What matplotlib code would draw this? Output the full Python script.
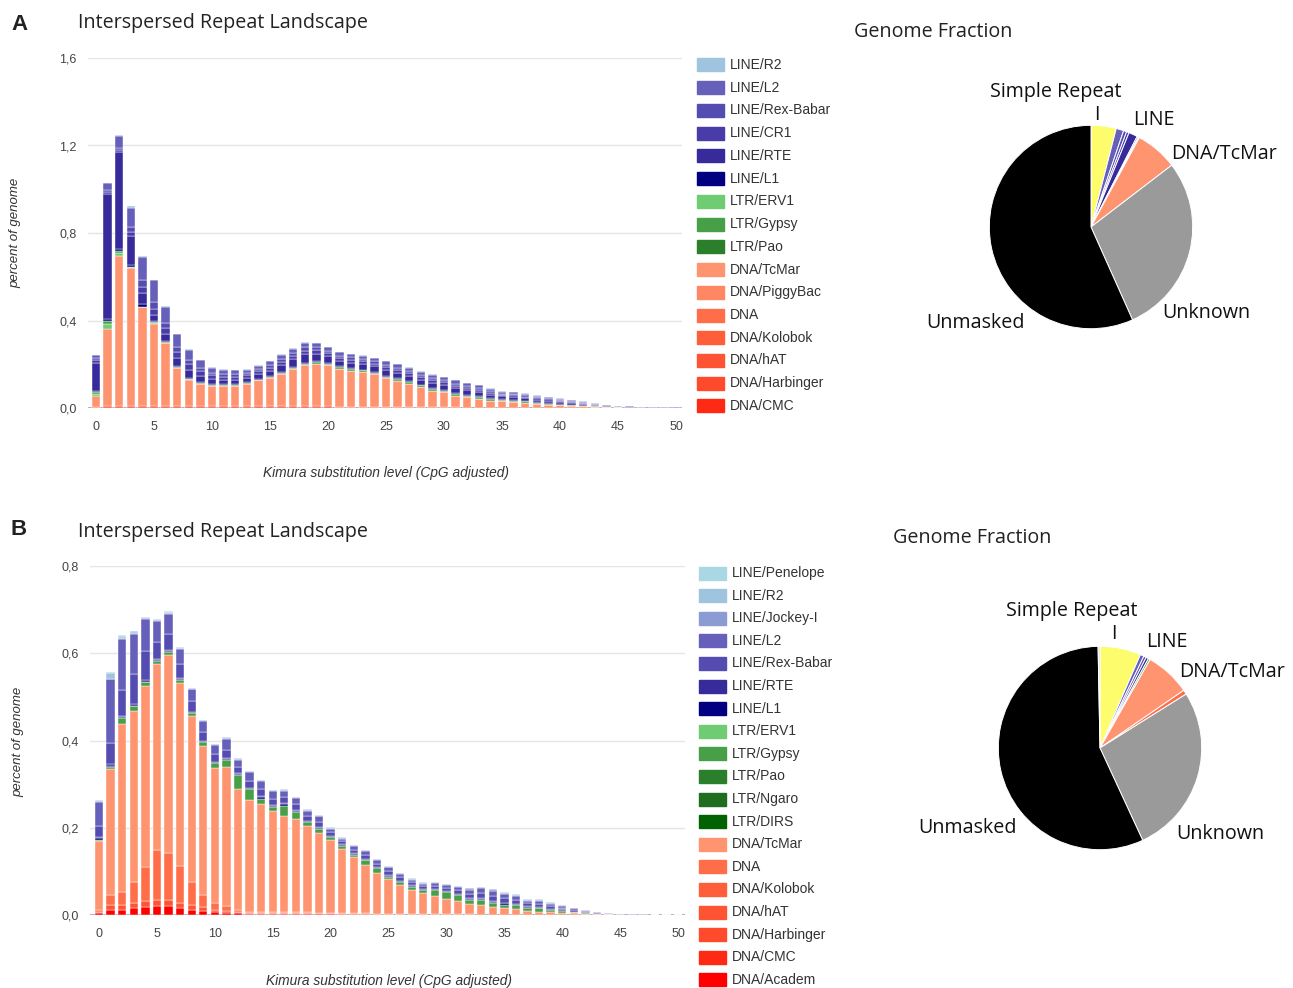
import matplotlib.pyplot as plt
from matplotlib.patches import Rectangle
import numpy as np

plt.rcParams['font.family'] = ['Liberation Sans', 'DejaVu Sans']

# shared axis values
kimura = list(range(51))
x_ticks = list(range(0, 51, 5))
y_ticks_a = [0, 0.4, 0.8, 1.2, 1.6]
y_labels_a = ['0,0', '0,4', '0,8', '1,2', '1,6']
y_ticks_b = [0, 0.2, 0.4, 0.6, 0.8]
y_labels_b = ['0,0', '0,2', '0,4', '0,6', '0,8']

# ---- panel A: percent of genome per Kimura bin ----
a_dna_hat = [0.004, 0.008, 0.010, 0.010, 0.010, 0.008, 0.008, 0.007, 0.007, 0.007,
             0.007, 0.007, 0.007, 0.007, 0.007, 0.007, 0.007, 0.007, 0.007, 0.007,
             0.007, 0.006, 0.006, 0.006, 0.006, 0.005, 0.005, 0.004, 0.004, 0.003,
             0.003, 0.003, 0.002, 0.002, 0.002, 0.002, 0.001, 0.001, 0.001, 0.001,
             0.001, 0.001, 0.001, 0.000, 0.000, 0.000, 0.000, 0.000, 0.000, 0.000,
             0.000]
a_dna_tcmar = [0.049, 0.355, 0.687, 0.630, 0.450, 0.378, 0.289, 0.176, 0.123, 0.104,
               0.095, 0.095, 0.095, 0.104, 0.119, 0.130, 0.148, 0.170, 0.189, 0.196,
               0.190, 0.174, 0.165, 0.160, 0.149, 0.132, 0.120, 0.106, 0.091, 0.076,
               0.069, 0.053, 0.047, 0.039, 0.032, 0.028, 0.026, 0.023, 0.017, 0.014,
               0.011, 0.010, 0.008, 0.006, 0.004, 0.003, 0.002, 0.001, 0.001, 0.001,
               0.000]
a_ltr_erv1 = [0.012, 0.022, 0.012, 0.003, 0.002, 0.002, 0.001, 0.001, 0.001, 0.001,
              0.000, 0.000, 0.000, 0.000, 0.000, 0.000, 0.000, 0.000, 0.000, 0.000,
              0.000, 0.000, 0.000, 0.000, 0.000, 0.000, 0.000, 0.000, 0.000, 0.000,
              0.000, 0.000, 0.000, 0.000, 0.000, 0.000, 0.000, 0.000, 0.000, 0.000,
              0.000, 0.000, 0.000, 0.000, 0.000, 0.000, 0.000, 0.000, 0.000, 0.000,
              0.000]
a_ltr_gypsy = [0.008, 0.011, 0.008, 0.003, 0.002, 0.003, 0.003, 0.003, 0.003, 0.002,
               0.003, 0.003, 0.003, 0.003, 0.004, 0.004, 0.005, 0.005, 0.006, 0.006,
               0.006, 0.006, 0.006, 0.006, 0.007, 0.007, 0.007, 0.008, 0.008, 0.008,
               0.008, 0.008, 0.008, 0.008, 0.007, 0.007, 0.007, 0.006, 0.006, 0.005,
               0.004, 0.003, 0.002, 0.001, 0.001, 0.000, 0.000, 0.000, 0.000, 0.000,
               0.000]
a_line_l1 = [0.005, 0.012, 0.012, 0.010, 0.010, 0.008, 0.006, 0.005, 0.005, 0.004,
             0.004, 0.004, 0.004, 0.004, 0.004, 0.004, 0.005, 0.005, 0.005, 0.005,
             0.005, 0.004, 0.004, 0.004, 0.004, 0.004, 0.004, 0.004, 0.004, 0.004,
             0.004, 0.004, 0.004, 0.004, 0.004, 0.003, 0.003, 0.003, 0.003, 0.003,
             0.003, 0.002, 0.002, 0.001, 0.001, 0.001, 0.000, 0.000, 0.000, 0.000,
             0.000]
a_line_rte = [0.130, 0.570, 0.440, 0.130, 0.050, 0.025, 0.030, 0.035, 0.035, 0.030,
              0.025, 0.020, 0.020, 0.020, 0.022, 0.025, 0.030, 0.035, 0.040, 0.035,
              0.030, 0.027, 0.027, 0.025, 0.024, 0.025, 0.024, 0.023, 0.022, 0.023,
              0.021, 0.022, 0.020, 0.019, 0.016, 0.013, 0.014, 0.012, 0.011, 0.010,
              0.009, 0.007, 0.006, 0.005, 0.003, 0.002, 0.002, 0.002, 0.001, 0.001,
              0.001]
a_line_cr1 = [0.010, 0.010, 0.010, 0.020, 0.030, 0.030, 0.030, 0.030, 0.025, 0.020,
              0.015, 0.015, 0.013, 0.012, 0.012, 0.014, 0.015, 0.015, 0.015, 0.015,
              0.012, 0.012, 0.012, 0.012, 0.012, 0.013, 0.013, 0.013, 0.012, 0.013,
              0.012, 0.012, 0.011, 0.010, 0.009, 0.007, 0.007, 0.007, 0.006, 0.006,
              0.005, 0.004, 0.003, 0.002, 0.002, 0.001, 0.001, 0.001, 0.001, 0.001,
              0.001]
a_line_rex = [0.010, 0.010, 0.010, 0.020, 0.030, 0.030, 0.020, 0.020, 0.020, 0.015,
              0.012, 0.012, 0.012, 0.010, 0.010, 0.012, 0.014, 0.015, 0.015, 0.014,
              0.012, 0.011, 0.011, 0.011, 0.011, 0.012, 0.011, 0.011, 0.011, 0.011,
              0.010, 0.010, 0.010, 0.009, 0.008, 0.006, 0.007, 0.006, 0.006, 0.005,
              0.004, 0.004, 0.003, 0.002, 0.001, 0.001, 0.001, 0.001, 0.001, 0.000,
              0.000]
a_line_l2 = [0.014, 0.030, 0.055, 0.090, 0.105, 0.100, 0.075, 0.060, 0.048, 0.035,
             0.023, 0.020, 0.018, 0.016, 0.016, 0.017, 0.019, 0.019, 0.021, 0.018,
             0.016, 0.015, 0.015, 0.015, 0.014, 0.016, 0.015, 0.015, 0.014, 0.015,
             0.014, 0.014, 0.012, 0.012, 0.010, 0.008, 0.008, 0.007, 0.007, 0.006,
             0.005, 0.005, 0.004, 0.003, 0.002, 0.002, 0.001, 0.001, 0.001, 0.001,
             0.001]
a_line_r2 = [0.002, 0.002, 0.003, 0.006, 0.005, 0.003, 0.003, 0.003, 0.003, 0.002,
             0.002, 0.002, 0.002, 0.002, 0.002, 0.002, 0.002, 0.002, 0.002, 0.002,
             0.002, 0.002, 0.002, 0.002, 0.002, 0.002, 0.002, 0.002, 0.002, 0.002,
             0.002, 0.002, 0.002, 0.002, 0.002, 0.002, 0.002, 0.002, 0.002, 0.002,
             0.002, 0.001, 0.001, 0.001, 0.001, 0.001, 0.001, 0.000, 0.000, 0.000,
             0.000]

# ---- panel B ----
b_dna_academ = [0.004, 0.012, 0.012, 0.015, 0.018, 0.020, 0.020, 0.016, 0.012, 0.010,
                0.006, 0.005, 0.004, 0.003, 0.003, 0.003, 0.003, 0.002, 0.002, 0.002,
                0.002, 0.001, 0.001, 0.001, 0.001, 0.001, 0.001, 0.001, 0.001, 0.001,
                0.001, 0.001, 0.001, 0.000, 0.000, 0.000, 0.000, 0.000, 0.000, 0.000,
                0.000, 0.000, 0.000, 0.000, 0.000, 0.000, 0.000, 0.000, 0.000, 0.000,
                0.000]
b_dna_hat = [0.004, 0.010, 0.010, 0.012, 0.015, 0.015, 0.015, 0.012, 0.010, 0.008,
             0.006, 0.005, 0.003, 0.002, 0.002, 0.002, 0.002, 0.002, 0.002, 0.002,
             0.002, 0.002, 0.002, 0.002, 0.001, 0.001, 0.001, 0.001, 0.001, 0.001,
             0.001, 0.001, 0.001, 0.001, 0.001, 0.001, 0.001, 0.001, 0.000, 0.000,
             0.000, 0.000, 0.000, 0.000, 0.000, 0.000, 0.000, 0.000, 0.000, 0.000,
             0.000]
b_dna = [0.004, 0.024, 0.030, 0.049, 0.077, 0.114, 0.108, 0.085, 0.054, 0.028,
         0.015, 0.010, 0.005, 0.003, 0.003, 0.002, 0.002, 0.002, 0.002, 0.001,
         0.001, 0.001, 0.001, 0.001, 0.001, 0.001, 0.001, 0.001, 0.000, 0.000,
         0.000, 0.000, 0.000, 0.000, 0.000, 0.000, 0.000, 0.000, 0.000, 0.000,
         0.000, 0.000, 0.000, 0.000, 0.000, 0.000, 0.000, 0.000, 0.000, 0.000,
         0.000]
b_dna_tcmar = [0.158, 0.289, 0.386, 0.392, 0.415, 0.426, 0.452, 0.418, 0.380, 0.342,
               0.311, 0.319, 0.276, 0.256, 0.246, 0.232, 0.219, 0.213, 0.199, 0.182,
               0.167, 0.147, 0.128, 0.110, 0.093, 0.079, 0.065, 0.054, 0.049, 0.042,
               0.034, 0.029, 0.023, 0.022, 0.018, 0.015, 0.013, 0.009, 0.008, 0.006,
               0.005, 0.004, 0.003, 0.002, 0.002, 0.001, 0.001, 0.001, 0.000, 0.000,
               0.000]
b_ltr_gypsy = [0.002, 0.004, 0.013, 0.010, 0.008, 0.007, 0.008, 0.008, 0.007, 0.009,
               0.010, 0.017, 0.034, 0.025, 0.013, 0.008, 0.025, 0.017, 0.008, 0.011,
               0.007, 0.008, 0.006, 0.011, 0.011, 0.006, 0.007, 0.008, 0.006, 0.013,
               0.016, 0.015, 0.009, 0.011, 0.008, 0.008, 0.008, 0.007, 0.007, 0.005,
               0.005, 0.003, 0.002, 0.001, 0.001, 0.000, 0.000, 0.000, 0.000, 0.000,
               0.000]
b_line_l1 = [0.004, 0.003, 0.002, 0.002, 0.002, 0.002, 0.002, 0.002, 0.002, 0.002,
             0.002, 0.002, 0.002, 0.002, 0.003, 0.004, 0.004, 0.003, 0.002, 0.002,
             0.002, 0.002, 0.002, 0.002, 0.002, 0.002, 0.002, 0.002, 0.002, 0.002,
             0.002, 0.002, 0.002, 0.002, 0.003, 0.003, 0.003, 0.002, 0.002, 0.002,
             0.002, 0.001, 0.001, 0.001, 0.000, 0.000, 0.000, 0.000, 0.000, 0.000,
             0.000]
b_line_rte = [0.002, 0.003, 0.003, 0.003, 0.003, 0.002, 0.002, 0.002, 0.001, 0.001,
              0.001, 0.001, 0.001, 0.001, 0.002, 0.002, 0.002, 0.002, 0.001, 0.001,
              0.001, 0.001, 0.001, 0.001, 0.001, 0.001, 0.001, 0.001, 0.001, 0.001,
              0.001, 0.001, 0.002, 0.002, 0.002, 0.001, 0.001, 0.001, 0.001, 0.001,
              0.001, 0.000, 0.000, 0.000, 0.000, 0.000, 0.000, 0.000, 0.000, 0.000,
              0.000]
b_line_rex = [0.025, 0.050, 0.060, 0.070, 0.068, 0.040, 0.038, 0.032, 0.025, 0.020,
              0.018, 0.020, 0.014, 0.016, 0.016, 0.014, 0.013, 0.013, 0.011, 0.012,
              0.008, 0.007, 0.008, 0.009, 0.008, 0.009, 0.008, 0.007, 0.006, 0.007,
              0.007, 0.008, 0.010, 0.012, 0.012, 0.010, 0.009, 0.007, 0.008, 0.006,
              0.004, 0.004, 0.002, 0.001, 0.001, 0.001, 0.000, 0.000, 0.000, 0.000,
              0.000]
b_line_l2 = [0.056, 0.145, 0.116, 0.092, 0.072, 0.048, 0.046, 0.034, 0.026, 0.024,
             0.020, 0.025, 0.017, 0.020, 0.019, 0.017, 0.015, 0.014, 0.012, 0.013,
             0.008, 0.006, 0.009, 0.009, 0.008, 0.009, 0.008, 0.006, 0.006, 0.006,
             0.006, 0.007, 0.010, 0.011, 0.012, 0.010, 0.009, 0.006, 0.007, 0.006,
             0.004, 0.003, 0.002, 0.002, 0.001, 0.001, 0.001, 0.001, 0.001, 0.001,
             0.000]
b_line_jockey = [0.002, 0.002, 0.002, 0.002, 0.002, 0.002, 0.002, 0.002, 0.002, 0.002,
                 0.002, 0.002, 0.002, 0.002, 0.002, 0.002, 0.002, 0.002, 0.002, 0.002,
                 0.002, 0.002, 0.002, 0.002, 0.002, 0.002, 0.002, 0.002, 0.002, 0.002,
                 0.002, 0.002, 0.003, 0.003, 0.003, 0.003, 0.002, 0.002, 0.002, 0.002,
                 0.001, 0.001, 0.001, 0.000, 0.000, 0.000, 0.000, 0.000, 0.000, 0.000,
                 0.000]
b_line_r2 = [0.002, 0.012, 0.006, 0.003, 0.002, 0.002, 0.002, 0.002, 0.002, 0.001,
             0.001, 0.001, 0.001, 0.001, 0.001, 0.001, 0.001, 0.001, 0.001, 0.001,
             0.001, 0.001, 0.001, 0.001, 0.001, 0.001, 0.001, 0.001, 0.001, 0.001,
             0.001, 0.001, 0.001, 0.001, 0.001, 0.001, 0.001, 0.001, 0.001, 0.001,
             0.001, 0.001, 0.000, 0.000, 0.000, 0.000, 0.000, 0.000, 0.000, 0.000,
             0.000]
b_line_penelope = [0.001, 0.002, 0.002, 0.001, 0.001, 0.001, 0.001, 0.001, 0.000, 0.000,
                   0.000, 0.000, 0.000, 0.000, 0.000, 0.000, 0.000, 0.000, 0.000, 0.000,
                   0.000, 0.000, 0.000, 0.000, 0.000, 0.000, 0.000, 0.000, 0.000, 0.000,
                   0.000, 0.000, 0.000, 0.000, 0.000, 0.000, 0.000, 0.000, 0.000, 0.000,
                   0.000, 0.000, 0.000, 0.000, 0.000, 0.000, 0.000, 0.000, 0.000, 0.000,
                   0.000]

# legend entries (top to bottom)
legend_a = ['LINE/R2', 'LINE/L2', 'LINE/Rex-Babar', 'LINE/CR1', 'LINE/RTE', 'LINE/L1',
            'LTR/ERV1', 'LTR/Gypsy', 'LTR/Pao', 'DNA/TcMar', 'DNA/PiggyBac', 'DNA',
            'DNA/Kolobok', 'DNA/hAT', 'DNA/Harbinger', 'DNA/CMC']
legend_b = ['LINE/Penelope', 'LINE/R2', 'LINE/Jockey-I', 'LINE/L2', 'LINE/Rex-Babar',
            'LINE/RTE', 'LINE/L1', 'LTR/ERV1', 'LTR/Gypsy', 'LTR/Pao', 'LTR/Ngaro',
            'LTR/DIRS', 'DNA/TcMar', 'DNA', 'DNA/Kolobok', 'DNA/hAT', 'DNA/Harbinger',
            'DNA/CMC', 'DNA/Academ']

# genome fraction pies (percent), clockwise from 12 o'clock
pie_a_classes = ['Simple Repeat', 'LINE/L2', 'LINE/Rex-Babar', 'LINE/CR1', 'LINE/RTE',
                 'LINE/L1', 'LINE/R2', 'DNA/TcMar', 'Unknown', 'Unmasked']
pie_a_values = [4.0, 1.2, 0.5, 0.4, 1.4, 0.2, 0.2, 6.7, 28.7, 56.7]
pie_b_classes = ['Simple Repeat', 'LINE/L2', 'LINE/Rex-Babar', 'LINE/RTE', 'LTR/Gypsy',
                 'DNA/TcMar', 'DNA', 'Unknown', 'Unmasked', 'Other']
pie_b_values = [6.5, 0.6, 0.4, 0.4, 0.3, 7.2, 0.7, 27.0, 56.6, 0.3]

colors = {
    'LINE/Penelope': '#a9d7e3', 'LINE/R2': '#9fc4e0', 'LINE/Jockey-I': '#8b9bd3',
    'LINE/L2': '#6660bb', 'LINE/Rex-Babar': '#554cb1', 'LINE/CR1': '#4a3ca8',
    'LINE/RTE': '#372b9c', 'LINE/L1': '#000080',
    'LTR/ERV1': '#70cc72', 'LTR/Gypsy': '#47a047', 'LTR/Pao': '#2b7f2b',
    'LTR/Ngaro': '#1f6e1f', 'LTR/DIRS': '#006200',
    'DNA/TcMar': '#fe9470', 'DNA/PiggyBac': '#ff8763', 'DNA': '#ff6e49',
    'DNA/Kolobok': '#ff5e3b', 'DNA/hAT': '#ff5434', 'DNA/Harbinger': '#ff4a2b',
    'DNA/CMC': '#ff2a14', 'DNA/Academ': '#ff0000',
    'Simple Repeat': '#fcfc6c', 'Unknown': '#9a9a9a', 'Unmasked': '#000000',
    'Other': '#d8d8d8',
}

stack_a = [('DNA/hAT', a_dna_hat), ('DNA/TcMar', a_dna_tcmar), ('LTR/ERV1', a_ltr_erv1),
           ('LTR/Gypsy', a_ltr_gypsy), ('LINE/L1', a_line_l1), ('LINE/RTE', a_line_rte),
           ('LINE/CR1', a_line_cr1), ('LINE/Rex-Babar', a_line_rex), ('LINE/L2', a_line_l2),
           ('LINE/R2', a_line_r2)]
stack_b = [('DNA/Academ', b_dna_academ), ('DNA/hAT', b_dna_hat), ('DNA', b_dna),
           ('DNA/TcMar', b_dna_tcmar), ('LTR/Gypsy', b_ltr_gypsy), ('LINE/L1', b_line_l1),
           ('LINE/RTE', b_line_rte), ('LINE/Rex-Babar', b_line_rex), ('LINE/L2', b_line_l2),
           ('LINE/Jockey-I', b_line_jockey), ('LINE/R2', b_line_r2),
           ('LINE/Penelope', b_line_penelope)]

W, H = 1293, 988
fig = plt.figure(figsize=(W / 100, H / 100), dpi=100)

# overlay in pixel coordinates for titles, legends and pie labels
ov = fig.add_axes([0, 0, 1, 1], zorder=0)
ov.set_xlim(0, W)
ov.set_ylim(H, 0)
ov.axis('off')


def px_axes(left, top, right, bottom):
    return fig.add_axes([left / W, 1 - bottom / H, (right - left) / W, (bottom - top) / H], zorder=2)


def draw_landscape(ax, stack, yticks, ylabels, xlim):
    base = np.zeros(len(kimura))
    for name, vals in stack:
        ax.bar(kimura, vals, width=0.72, bottom=base, color=colors[name],
               edgecolor='white', linewidth=0.3)
        base += np.array(vals)
    ax.set_xlim(*xlim)
    ax.set_ylim(yticks[0], yticks[-1])
    ax.set_yticks(yticks)
    ax.set_yticklabels(ylabels)
    ax.set_xticks(x_ticks)
    ax.grid(axis='y', color='#e5e5e5', linewidth=1)
    ax.set_axisbelow(True)
    ax.axhline(0, color='#9a9a9a', linewidth=1.2, zorder=0.5)
    for s in ax.spines.values():
        s.set_visible(False)
    ax.tick_params(length=0, labelsize=9, labelcolor='#444444')
    ax.tick_params(axis='y', pad=8)
    ax.tick_params(axis='x', pad=9)
    ax.patch.set_alpha(0)


def draw_legend(names, x, y0, step):
    for i, name in enumerate(names):
        y = y0 + i * step
        ov.add_patch(Rectangle((x, y - 6.5), 27, 13, color=colors[name]))
        ov.text(x + 33, y, name, va='center', ha='left', fontsize=10, color='#333333')


def draw_pie(cx, cy, r, classes, values):
    ax = px_axes(cx - 1.1 * r, cy - 1.1 * r, cx + 1.1 * r, cy + 1.1 * r)
    ax.pie(values, colors=[colors[c] for c in classes], startangle=90, counterclock=False,
           wedgeprops=dict(edgecolor='white', linewidth=0.7))
    ax.set_xlim(-1.1, 1.1)
    ax.set_ylim(-1.1, 1.1)
    ax.set_aspect('equal')


ax_a = px_axes(88, 58, 682, 408)
draw_landscape(ax_a, stack_a, y_ticks_a, y_labels_a, (-0.69, 50.52))
ax_b = px_axes(90, 566, 685, 915)
draw_landscape(ax_b, stack_b, y_ticks_b, y_labels_b, (-0.78, 50.6))

draw_legend(legend_a, 697, 65, 22.73)
draw_legend(legend_b, 699, 573, 22.6)

draw_pie(1091, 227, 101.7, pie_a_classes, pie_a_values)
draw_pie(1100, 748, 101.7, pie_b_classes, pie_b_values)

title_font = ['Open Sans', 'DejaVu Sans']
for lab, ty, py, gx, gy in [('A', 24, 23, 854, 32), ('B', 529, 532, 893, 538)]:
    ov.text(11, ty, lab, fontsize=16, fontweight='bold', va='center', ha='left', color='#222222')
    ov.text(78, py, 'Interspersed Repeat Landscape', fontsize=14.2, va='center', ha='left',
            family=title_font, color='#222222')
    ov.text(gx, gy, 'Genome Fraction', fontsize=14.2, va='center', ha='left',
            family=title_font, color='#222222')

ov.text(386, 473, 'Kimura substitution level (CpG adjusted)', fontsize=9.9, style='italic',
        ha='center', va='center', color='#333333')
ov.text(389, 981, 'Kimura substitution level (CpG adjusted)', fontsize=9.9, style='italic',
        ha='center', va='center', color='#333333')
ov.text(15, 233, 'percent of genome', fontsize=9.5, style='italic', rotation=90,
        ha='center', va='center', color='#333333')
ov.text(18, 742, 'percent of genome', fontsize=9.5, style='italic', rotation=90,
        ha='center', va='center', color='#333333')

pie_labels_a = [('Simple Repeat', 1056, 92), ('I', 1097, 115), ('LINE', 1154, 120),
                ('DNA/TcMar', 1224, 154), ('Unknown', 1206, 313), ('Unmasked', 976, 323)]
pie_labels_b = [('Simple Repeat', 1072, 611), ('I', 1114, 634), ('LINE', 1167, 642),
                ('DNA/TcMar', 1232, 672), ('Unknown', 1220, 834), ('Unmasked', 968, 828)]
for txt, x, y in pie_labels_a + pie_labels_b:
    ov.text(x, y, txt, fontsize=14.2, ha='center', va='center', family=title_font, color='#111111')

plt.savefig('out.png', dpi=100)
